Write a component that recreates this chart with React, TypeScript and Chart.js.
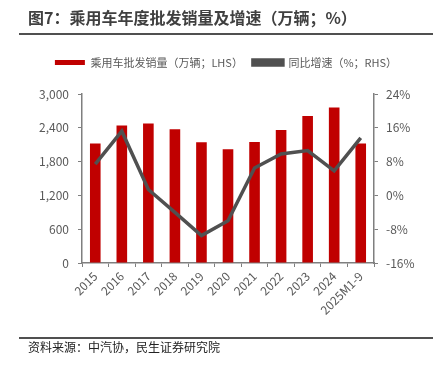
import React, { useEffect, useRef } from "react";
import { Chart, registerables } from "chart.js";

Chart.register(...registerables);

const categories = ["2015", "2016", "2017", "2018", "2019", "2020", "2021", "2022", "2023", "2024", "2025M1-9"];
const salesValues = [2120, 2440, 2475, 2375, 2145, 2020, 2150, 2360, 2610, 2760, 2120];
const growthValues = [7.4, 15.2, 1.4, -4.0, -9.5, -6.0, 6.5, 9.8, 10.6, 5.8, 13.6];
const salesLabel = "乘用车批发销量（万辆；LHS）";
const growthLabel = "同比增速（%；RHS）";
const titleText = "图7：乘用车年度批发销量及增速（万辆；%）";
const sourceText = "资料来源：中汽协，民生证券研究院";

const FONT = "'Noto Sans CJK SC', 'Noto Sans', sans-serif";
const GRAY = "#595959";
const AXIS = "#7f7f7f";

export default function App() {
  const ref = useRef<HTMLCanvasElement | null>(null);

  useEffect(() => {
    if (!ref.current) return;
    const legendSpacer = {
      id: "legendSpacer",
      beforeInit(chart: any) {
        const orig = chart.legend.fit;
        chart.legend.fit = function () {
          orig.bind(chart.legend)();
          this.height += 16;
        };
      },
    };
    const chart = new Chart(ref.current, {
      type: "bar",
      data: {
        labels: categories,
        datasets: [
          {
            type: "bar",
            label: salesLabel,
            data: salesValues,
            backgroundColor: "#C00000",
            borderWidth: 0,
            barPercentage: 0.4,
            categoryPercentage: 1,
            yAxisID: "y",
            order: 2,
          },
          {
            type: "line",
            label: growthLabel,
            data: growthValues,
            borderColor: "#505050",
            backgroundColor: "#505050",
            borderWidth: 3.5,
            pointRadius: 0,
            tension: 0,
            yAxisID: "y1",
            order: 1,
          },
        ],
      },
      plugins: [legendSpacer],
      options: {
        animation: false,
        responsive: false,
        maintainAspectRatio: false,
        layout: { padding: { top: 47, left: 18, right: 0, bottom: 0 } },
        plugins: {
          tooltip: { enabled: false },
          legend: {
            position: "top",
            align: "center",
            labels: {
              boxWidth: 30,
              boxHeight: 5,
              padding: 10,
              color: GRAY,
              font: { family: FONT, size: 11 },
              sort: (a: any, b: any) => a.datasetIndex - b.datasetIndex,
            },
          },
        },
        scales: {
          x: {
            offset: true,
            grid: {
              display: true,
              drawOnChartArea: false,
              drawTicks: true,
              tickLength: 4,
              tickColor: AXIS,
              offset: true,
            },
            border: { display: true, color: AXIS, width: 1.5 },
            ticks: {
              color: GRAY,
              font: { family: FONT, size: 12 },
              minRotation: 45,
              maxRotation: 45,
              autoSkip: false,
              padding: 2,
            },
            afterFit(scale: any) {
              scale.height = 106;
            },
          },
          y: {
            position: "left",
            min: 0,
            max: 3000,
            grid: {
              display: true,
              drawOnChartArea: false,
              drawTicks: true,
              tickLength: 4,
              tickColor: AXIS,
            },
            border: { display: true, color: AXIS, width: 1.5 },
            ticks: {
              stepSize: 600,
              color: GRAY,
              font: { family: FONT, size: 12 },
              padding: 9,
              callback: (v: any) => Number(v).toLocaleString("en-US"),
            },
            afterFit(scale: any) {
              scale.width = 64;
            },
          },
          y1: {
            position: "right",
            min: -16,
            max: 24,
            grid: {
              display: true,
              drawOnChartArea: false,
              drawTicks: true,
              tickLength: 4,
              tickColor: AXIS,
            },
            border: { display: true, color: AXIS, width: 1.5 },
            ticks: {
              stepSize: 8,
              color: GRAY,
              font: { family: FONT, size: 12 },
              padding: 8,
              callback: (v: any) => v + "%",
            },
            afterFit(scale: any) {
              scale.width = 60;
            },
          },
        },
      },
    } as any);
    return () => chart.destroy();
  }, []);

  return (
    <div style={{ position: "absolute", left: 0, top: 0, width: 434, height: 369, background: "#fff", fontFamily: FONT }}>
      <canvas ref={ref} width={434} height={369} style={{ position: "absolute", left: 0, top: 0, width: 434, height: 369 }} />
      <div style={{ position: "absolute", left: 28, top: 6, fontSize: 16, fontWeight: 700, color: "#404040", lineHeight: "22px", whiteSpace: "nowrap" }}>
        {titleText}
      </div>
      <div style={{ position: "absolute", left: 19, top: 33, width: 414, height: 1.5, background: "#505050" }} />
      <div style={{ position: "absolute", left: 19, top: 337, width: 414, height: 1.5, background: "#505050" }} />
      <div style={{ position: "absolute", left: 28, top: 339, fontSize: 12, color: "#222", lineHeight: "16px", whiteSpace: "nowrap" }}>
        {sourceText}
      </div>
    </div>
  );
}
